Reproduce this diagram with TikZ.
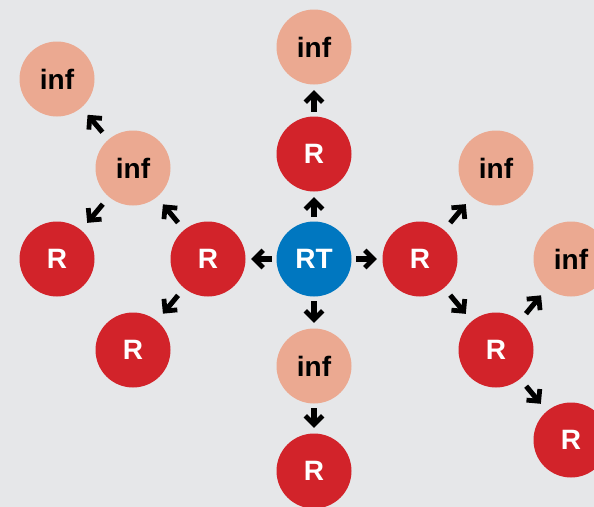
\documentclass[tikz,border=0pt]{standalone}
\usepackage{fontspec}
\setmainfont{Liberation Sans}
\usetikzlibrary{arrows.meta}
\definecolor{bggray}{RGB}{230,231,233}
\definecolor{rtblue}{RGB}{0,119,192}
\definecolor{rred}{RGB}{210,35,42}
\definecolor{infsalmon}{RGB}{235,169,145}
\begin{document}
\begin{tikzpicture}
    [
    x=0.75pt, y=-0.75pt,
    every node/.style={font=\fontsize{21}{21}\selectfont\bfseries},
    dot/.style={circle, minimum size=56.25pt, inner sep=0pt},
    rt/.style={dot, fill=rtblue, text=white},
    rr/.style={dot, fill=rred, text=white},
    inf/.style={dot, fill=infsalmon, text=black},
    arrow/.style={-{Straight Barb[length=6.5pt,width=13pt,line width=3.6pt]}, line width=3.8pt, shorten <=3.5pt, shorten >=4pt},
    diag/.style={arrow, shorten <=7pt, shorten >=7pt}
    ]

% Background
    \fill[bggray] (0,0) rectangle (594,507);
    \useasboundingbox (0,0) rectangle (594,507);

% Centre
    \node[rt] (rt) at (314,259) {RT};

% Up branch
    \node[rr] (r_up) at (314,154) {R};
    \node[inf] (inf_up) at (314,47) {inf};

% Down branch
    \node[inf] (inf_down) at (314,366) {inf};
    \node[rr] (r_down) at (314,471) {R};

% Left branch
    \node[rr] (r_left) at (208,259) {R};
    \node[inf] (inf_left) at (133,168) {inf};
    \node[inf] (inf_leftup) at (57,79) {inf};
    \node[rr] (r_leftout) at (57,259) {R};
    \node[rr] (r_leftdown) at (133,350) {R};

% Right branch
    \node[rr] (r_right) at (420,259) {R};
    \node[inf] (inf_right) at (496,168) {inf};
    \node[rr] (r_rightdown) at (496,350) {R};
    \node[inf] (inf_rightout) at (571,259) {inf};
    \node[rr] (r_rightlow) at (571,440) {R};

% Arrows
    \draw[arrow] (rt) -- (r_up);
    \draw[arrow] (r_up) -- (inf_up);
    \draw[arrow] (rt) -- (inf_down);
    \draw[arrow] (inf_down) -- (r_down);
    \draw[arrow] (rt) -- (r_left);
    \draw[arrow] (rt) -- (r_right);
    \draw[diag] (r_left) -- (inf_left);
    \draw[diag] (inf_left) -- (inf_leftup);
    \draw[diag] (inf_left) -- (r_leftout);
    \draw[diag] (r_left) -- (r_leftdown);
    \draw[diag] (r_right) -- (inf_right);
    \draw[diag] (r_right) -- (r_rightdown);
    \draw[diag] (r_rightdown) -- (inf_rightout);
    \draw[diag] (r_rightdown) -- (r_rightlow);

\end{tikzpicture}
\end{document}
